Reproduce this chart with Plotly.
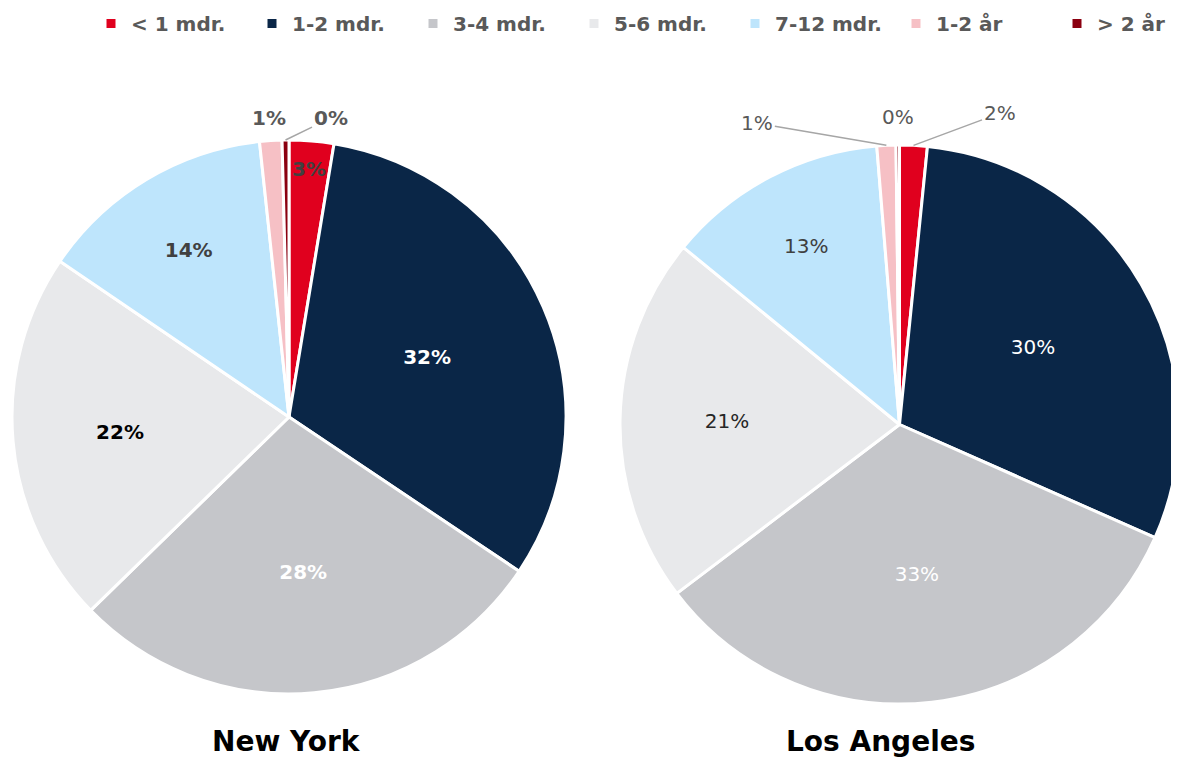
import math
import plotly.graph_objects as go

categories = ["< 1 mdr.", "1-2 mdr.", "3-4 mdr.", "5-6 mdr.", "7-12 mdr.", "1-2 år", "> 2 år"]
ny_values = [2.6, 31.8, 28.3, 21.8, 13.8, 1.3, 0.4]
la_values = [1.6, 30.1, 33.1, 21.3, 12.8, 1.1, 0.2]
colors = ["#E0001E", "#0A2647", "#C5C6CA", "#E8E9EB", "#BEE5FC", "#F6C0C5", "#8B0010"]

ny_text_colors = ["#404040", "#FFFFFF", "#FFFFFF", "#000000", "#404040", "#595959", "#595959"]
la_text_colors = ["#404040", "#FFFFFF", "#FFFFFF", "#262626", "#404040", "#595959", "#595959"]
positions = ["none", "inside", "inside", "inside", "inside", "none", "none"]

FONT = "DejaVu Sans"
W, H = 1171, 749  # page body has an 8px margin


def fx(x):
    return (x - 8) / W


def fy(y):
    return 1 - (y - 8) / H


ny_dom = dict(x=[fx(12), fx(566)], y=[fy(694), fy(140)])
la_dom = dict(x=[fx(620), fx(1179)], y=[fy(704), fy(145)])

fig = go.Figure()
fig.add_trace(go.Pie(
    labels=categories, values=ny_values, sort=False, direction="clockwise", rotation=0,
    marker=dict(colors=colors, line=dict(color="white", width=3)),
    texttemplate="%{percent:.0%}", textposition=positions,
    insidetextorientation="horizontal",
    textfont=dict(family=FONT, size=20, color=ny_text_colors, weight="bold"),
    domain=ny_dom, hoverinfo="label+percent", automargin=False,
))
fig.add_trace(go.Pie(
    labels=categories, values=la_values, sort=False, direction="clockwise", rotation=0,
    marker=dict(colors=colors, line=dict(color="white", width=3)),
    texttemplate="%{percent:.0%}", textposition=positions,
    insidetextorientation="horizontal",
    textfont=dict(family=FONT, size=20, color=la_text_colors),
    domain=la_dom, hoverinfo="label+percent", automargin=False,
))


def slice_point(dom, values, idx, rfrac):
    """Point (paper coords) on the mid-angle of slice idx at rfrac * radius."""
    x0, x1 = dom["x"][0] * W, dom["x"][1] * W
    y0, y1 = (1 - dom["y"][1]) * H, (1 - dom["y"][0]) * H
    cx, cy = (x0 + x1) / 2, (y0 + y1) / 2
    r = min(x1 - x0, y1 - y0) / 2
    total = sum(values)
    start = sum(values[:idx]) / total
    mid = (start + values[idx] / total / 2) * 2 * math.pi
    px = cx + rfrac * r * math.sin(mid)
    py = cy - rfrac * r * math.cos(mid)
    return px / W, 1 - py / H


def pct(values, idx):
    return f"{round(values[idx] / sum(values) * 100)}%"


def small_label(dom, values, idx, rfrac, font, ax=None, ay=None):
    x, y = slice_point(dom, values, idx, rfrac)
    kw = dict(text=pct(values, idx), x=x, y=y, xref="paper", yref="paper",
              xanchor="center", yanchor="middle", font=font)
    if ax is None:
        fig.add_annotation(showarrow=False, **kw)
    else:
        fig.add_annotation(showarrow=True, ax=ax, ay=ay, arrowhead=0, arrowwidth=1.5,
                           arrowcolor="#A6A6A6", standoff=0, **kw)


ny_font = dict(family=FONT, size=20, color="#595959", weight="bold")
ny_font_in = dict(family=FONT, size=20, color="#404040", weight="bold")
la_font = dict(family=FONT, size=20, color="#595959")

# New York small slices
small_label(ny_dom, ny_values, 0, 0.9, ny_font_in)
small_label(ny_dom, ny_values, 5, 1.08, ny_font)
small_label(ny_dom, ny_values, 6, 1.0, ny_font, ax=45, ay=-22)
# Los Angeles small slices
small_label(la_dom, la_values, 0, 1.0, la_font, ax=86, ay=-32)
small_label(la_dom, la_values, 5, 1.0, la_font, ax=-129, ay=-22)
small_label(la_dom, la_values, 6, 1.1, la_font)

fig.add_annotation(text="<b>New York</b>", x=fx(286), y=fy(741), xref="paper", yref="paper",
                   showarrow=False, xanchor="center", yanchor="middle",
                   font=dict(family=FONT, size=28, color="#000000"))
fig.add_annotation(text="<b>Los Angeles</b>", x=fx(880), y=fy(741), xref="paper", yref="paper",
                   showarrow=False, xanchor="center", yanchor="middle",
                   font=dict(family=FONT, size=28, color="#000000"))

fig.update_layout(
    width=W, height=H, margin=dict(l=0, r=0, t=0, b=0, autoexpand=False),
    paper_bgcolor="white", plot_bgcolor="white",
    showlegend=True,
    legend=dict(orientation="h", x=fx(98 + 1120), xanchor="right", y=fy(4), yanchor="top",
                font=dict(family=FONT, size=20, color="#595959", weight="bold"),
                itemwidth=30, traceorder="normal",
                entrywidth=116, entrywidthmode="pixels"),
)

fig.write_html("out.html")
